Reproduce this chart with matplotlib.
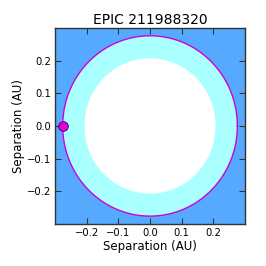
import matplotlib
matplotlib.use("Agg")
import matplotlib.pyplot as plt
import numpy as np

title = "EPIC 211988320"
hz_inner = 0.207   # AU, inner edge of the habitable zone
hz_outer = 0.276   # AU, outer edge
orbit_a = 0.276    # AU, planet orbit radius
planet_x = -0.276
planet_y = 0.0
ticks = [-0.2, -0.1, 0.0, 0.1, 0.2]
lim = 0.3

fig = plt.figure(figsize=(2.66, 2.66), dpi=100)
ax = fig.add_axes([0.207, 0.158, 0.714, 0.737])
ax.set_facecolor('#55aaff')

ax.add_patch(plt.Circle((0, 0), hz_outer, color='#aaffff', lw=0))
ax.add_patch(plt.Circle((0, 0), hz_inner, color='white', lw=0))

theta = np.linspace(0, 2*np.pi, 400)
ax.plot(orbit_a*np.cos(theta), orbit_a*np.sin(theta), '-', color='#cc00dd', lw=1)
ax.plot([planet_x], [planet_y], 'o', color='#dd00dd', mec='#550055', mew=0.6, ms=7, clip_on=False, zorder=5)

ax.set_xlim(-lim, lim)
ax.set_ylim(-lim, lim)
ax.set_xticks(ticks)
ax.set_yticks(ticks)
ax.tick_params(direction='in', top=True, right=True, length=4, width=0.8,
               labelsize=7.2, color='#333333', pad=3)
for s in ax.spines.values():
    s.set_color('#333333')
    s.set_linewidth(1)
ax.set_xlabel("Separation (AU)", fontsize=8.5, labelpad=1)
ax.set_ylabel("Separation (AU)", fontsize=8.5, labelpad=1)
ax.set_title(title, fontsize=10, pad=3)

plt.savefig("out.png", dpi=100)
plt.close("all")
